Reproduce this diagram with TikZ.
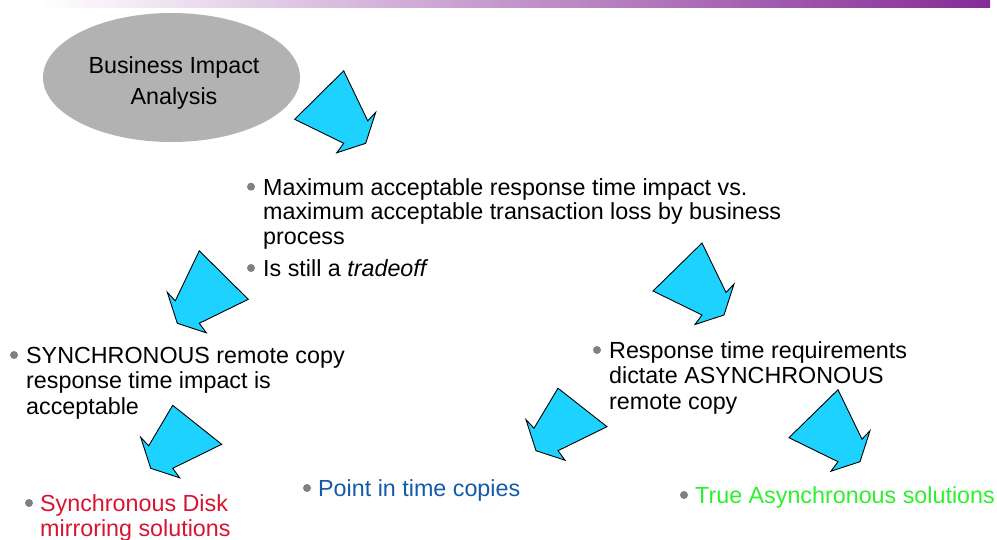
\documentclass[tikz,border=0pt]{standalone}
\usepackage{fontspec}
\setmainfont{Liberation Sans}
\usetikzlibrary{shapes.geometric}
\definecolor{arrowfill}{RGB}{30,210,255}
\definecolor{ellgray}{RGB}{178,178,178}
\definecolor{bulletgray}{RGB}{128,128,128}
\definecolor{barpurple}{RGB}{134,42,150}
\definecolor{solred}{RGB}{215,20,50}
\definecolor{solblue}{RGB}{20,90,170}
\definecolor{solgreen}{RGB}{45,240,45}
\tikzset{
  txt/.style={font=\fontsize{23.3}{25.5}\selectfont, inner sep=0pt, align=left, anchor=base west},
  bulletdot/.style={fill=bulletgray},
  arrowstyle/.style={fill=arrowfill, draw=black, line width=0.9pt, line join=miter},
  pics/bigarrow/.style={code={
    \draw[arrowstyle] (0,0) -- (10,-31) -- (2,-22.5) -- (-22,#1) -- (-71,-24) -- (-22,0) -- (-29,9.5) -- cycle;
  }}
}
\begin{document}
\begin{tikzpicture}[x=1pt,y=-1pt]
\useasboundingbox (0,0) rectangle (997,539);
% top bar
\shade[left color=white, right color=barpurple] (40,0) rectangle (990,7.5);
% ellipse
\node[ellipse, fill=ellgray, minimum width=257pt, minimum height=129pt, inner sep=0pt] (bia) at (171.5,77.5) {};
\node[font=\fontsize{23.3}{31}\selectfont, align=center, inner sep=0pt, anchor=base] (biatxt) at (174,104) {Business Impact\\Analysis};
% arrows
\pic at (365.7,143.3) {bigarrow=-72.5};
\pic[xscale=-1] at (177.3,323.3) {bigarrow=-72.5};
\pic[xscale=-1] at (150.7,468.3) {bigarrow=-63};
\pic at (724,315) {bigarrow=-72};
\pic[xscale=-1] at (536,450.7) {bigarrow=-62.5};
\pic at (860,461.7) {bigarrow=-72};
% bullets and texts (base anchor = baseline of last line)
\fill[bulletdot] (251,186.7) circle (4);
\node[txt, font=\fontsize{23.3}{24.5}\selectfont] (b1) at (263,244) {Maximum acceptable response time impact vs.\\maximum acceptable transaction loss by business\\process};
\fill[bulletdot] (251,268) circle (4);
\node[txt] (b2) at (263,276) {Is still a \textit{tradeoff}};
\fill[bulletdot] (14,355) circle (4);
\node[txt] (sync) at (26,414) {SYNCHRONOUS remote copy\\response time impact is\\acceptable};
\fill[bulletdot] (597,350) circle (4);
\node[txt] (async) at (609,409) {Response time requirements\\dictate ASYNCHRONOUS\\remote copy};
\fill[bulletdot] (29,503) circle (4);
\node[txt, text=solred, font=\fontsize{23.3}{25}\selectfont] (syncsol) at (40,536) {Synchronous Disk\\mirroring solutions};
\fill[bulletdot] (307,488) circle (4);
\node[txt, text=solblue] (pit) at (318,496) {Point in time copies};
\fill[bulletdot] (684,495) circle (4);
\node[txt, text=solgreen] (truesol) at (695,503) {True Asynchronous solutions};
\end{tikzpicture}
\end{document}
